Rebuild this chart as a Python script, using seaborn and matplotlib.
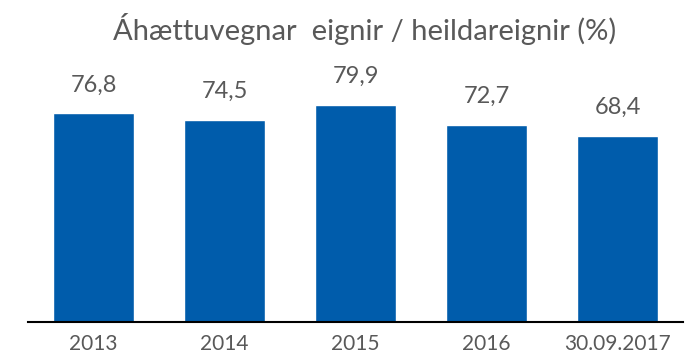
import matplotlib
matplotlib.use("Agg")
import matplotlib.pyplot as plt
import seaborn as sns
import pandas as pd

# Risk-weighted assets as a share of total assets
periods = ["2013", "2014", "2015", "2016", "30.09.2017"]
ratios = [76.8, 74.5, 79.9, 72.7, 68.4]
value_labels = ["76,8", "74,5", "79,9", "72,7", "68,4"]

title = "Áhættuvegnar  eignir / heildareignir (%)"
bar_color = "#005CAB"
text_color = "#595959"

sns.set_theme(style="white")
plt.rcParams["font.family"] = ["Lato", "DejaVu Sans"]

df = pd.DataFrame({"period": periods, "ratio": ratios})

fig = plt.figure(figsize=(6.97, 3.57), dpi=100)
ax = fig.add_axes([28 / 697, 35 / 357, 655 / 697, 271.6 / 357])

sns.barplot(data=df, x="period", y="ratio", color=bar_color, width=0.625,
            saturation=1, ax=ax)

ax.set_xlim(-0.5, len(periods) - 0.5)
ax.set_ylim(0, 100)
ax.set_xlabel("")
ax.set_ylabel("")
ax.set_yticks([])
ax.tick_params(axis="x", length=0, pad=9, labelsize=15, labelcolor=text_color)

for side in ("left", "right", "top"):
    ax.spines[side].set_visible(False)
ax.spines["bottom"].set_color("#000000")
ax.spines["bottom"].set_linewidth(1.5)

for bar, label in zip(ax.patches, value_labels):
    ax.annotate(label, (bar.get_x() + bar.get_width() / 2, bar.get_height()),
                xytext=(0, 18), textcoords="offset pixels",
                ha="center", va="bottom", fontsize=17, color=text_color)

fig.text(365 / 697, 1 - 29 / 357, title, ha="center", va="center",
         fontsize=21, color=text_color)

fig.savefig("out.png", dpi=100, facecolor="white")
